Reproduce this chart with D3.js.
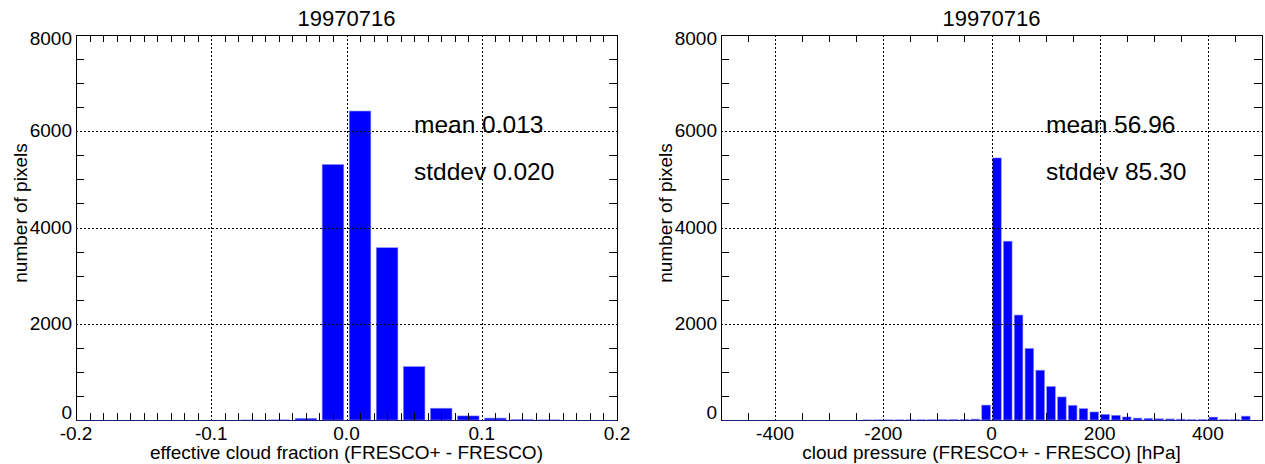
<!DOCTYPE html>
<html>
<head>
<meta charset="utf-8">
<script src="https://cdn.jsdelivr.net/npm/d3@7"></script>
<style>
  body { margin: 0; background: #fff; }
  svg { display: block; font-family: "Liberation Sans", Arial, sans-serif; }
</style>
</head>
<body>
<div id="container"></div>
<script>
// chart data
const dateTitle = '19970716';

const countTickValues = [0, 2000, 4000, 6000, 8000];
const countTickLabels = ['0', '2000', '4000', '6000', '8000'];

// effective cloud fraction histogram (bins of 0.02)
const cfBinCenters = [-0.19, -0.17, -0.15, -0.13, -0.11, -0.09, -0.07, -0.05, -0.03, -0.01,
                      0.01, 0.03, 0.05, 0.07, 0.09, 0.11, 0.13, 0.15, 0.17, 0.19];
const cfCounts = [0, 0, 0, 0, 0, 0, 1, 3, 35, 5310,
                  6420, 3580, 1110, 245, 85, 40, 12, 3, 0, 0];
const cfTickValues = [-0.2, -0.1, 0.0, 0.1, 0.2];
const cfTickLabels = ['-0.2', '-0.1', '0.0', '0.1', '0.2'];

// cloud pressure histogram (bins of 20 hPa)
const cpBinCenters = [-490, -470, -450, -430, -410, -390, -370, -350, -330, -310,
                      -290, -270, -250, -230, -210, -190, -170, -150, -130, -110,
                      -90, -70, -50, -30, -10, 10, 30, 50, 70, 90,
                      110, 130, 150, 170, 190, 210, 230, 250, 270, 290,
                      310, 330, 350, 370, 390, 410, 430, 450, 470, 490];
const cpCounts = [0, 0, 0, 0, 0, 0, 0, 0, 0, 0,
                  0, 0, 0, 2, 3, 3, 4, 4, 5, 6,
                  8, 10, 14, 20, 310, 5445, 3716, 2181, 1487, 1035,
                  696, 479, 306, 236, 167, 118, 98, 63, 40, 35,
                  25, 22, 18, 10, 12, 60, 8, 10, 80, 0];
const cpTickValues = [-400, -200, 0, 200, 400];
const cpTickLabels = ['-400', '-200', '0', '200', '400'];

// svg dimensions
const width = 1265;
const height = 464;
const plotTop = 35;
const plotBottom = 420;

const svg = d3.select('#container')
              .append('svg')
              .attr('width', width)
              .attr('height', height);

const panels = [
    {
        left: 76, right: 617,
        domain: [-0.2, 0.2], binWidth: 0.02, minorStep: 0.01,
        centers: cfBinCenters, counts: cfCounts,
        ticks: cfTickValues, labels: cfTickLabels,
        xTitle: 'effective cloud fraction (FRESCO+ - FRESCO)',
        mean: 'mean 0.013', std: 'stddev 0.020', textX: 414
    },
    {
        left: 721, right: 1262,
        domain: [-500, 500], binWidth: 20, minorStep: 50,
        centers: cpBinCenters, counts: cpCounts,
        ticks: cpTickValues, labels: cpTickLabels,
        xTitle: 'cloud pressure (FRESCO+ - FRESCO) [hPa]',
        mean: 'mean 56.96', std: 'stddev 85.30', textX: 1046
    }
];

const yScale = d3.scaleLinear()
                 .domain([0, 8000])
                 .range([plotBottom, plotTop]);

panels.forEach((p) => {
    const g = svg.append('g');

    const xScale = d3.scaleLinear()
                     .domain(p.domain)
                     .range([p.left, p.right]);

    // bars
    const barW = (xScale(p.binWidth) - xScale(0)) * 0.8;
    g.selectAll('rect.bar')
     .data(p.centers.map((c, i) => ({ c: c, n: p.counts[i] })))
     .enter()
     .append('rect')
     .attr('class', 'bar')
     .attr('x', d => xScale(d.c) - barW / 2)
     .attr('width', barW)
     .attr('y', d => yScale(d.n))
     .attr('height', d => plotBottom - yScale(d.n))
     .attr('fill', '#0000ff')
     .attr('stroke', '#8c8cff')
     .attr('stroke-width', 0.6);

    // dotted grid lines (inner major ticks)
    const xGrid = p.ticks.filter(v => v > p.domain[0] && v < p.domain[1]);
    g.selectAll('line.xgrid')
     .data(xGrid)
     .enter()
     .append('line')
     .attr('x1', d => Math.round(xScale(d)) + 0.5)
     .attr('x2', d => Math.round(xScale(d)) + 0.5)
     .attr('y1', plotTop)
     .attr('y2', plotBottom)
     .attr('stroke', '#000')
     .attr('stroke-dasharray', '2,2');

    const yGrid = countTickValues.filter(v => v > 0 && v < 8000);
    g.selectAll('line.ygrid')
     .data(yGrid)
     .enter()
     .append('line')
     .attr('x1', p.left)
     .attr('x2', p.right)
     .attr('y1', d => Math.round(yScale(d)) + 0.5)
     .attr('y2', d => Math.round(yScale(d)) + 0.5)
     .attr('stroke', '#000')
     .attr('stroke-dasharray', '2,2');

    // minor ticks on x (top and bottom)
    const xMinor = d3.range(p.domain[0], p.domain[1] + p.minorStep / 2, p.minorStep)
                     .filter(v => !p.ticks.some(t => Math.abs(t - v) < p.minorStep / 10));
    const xm = g.selectAll('g.xm')
                .data(xMinor)
                .enter()
                .append('g');
    xm.append('line')
      .attr('x1', d => Math.round(xScale(d)) + 0.5)
      .attr('x2', d => Math.round(xScale(d)) + 0.5)
      .attr('y1', plotBottom)
      .attr('y2', plotBottom - 7)
      .attr('stroke', '#000');
    xm.append('line')
      .attr('x1', d => Math.round(xScale(d)) + 0.5)
      .attr('x2', d => Math.round(xScale(d)) + 0.5)
      .attr('y1', plotTop)
      .attr('y2', plotTop + 7)
      .attr('stroke', '#000');

    // minor ticks on y (left and right)
    const yMinor = d3.range(500, 8000, 500).filter(v => v % 2000 !== 0);
    const ym = g.selectAll('g.ym')
                .data(yMinor)
                .enter()
                .append('g');
    ym.append('line')
      .attr('x1', p.left)
      .attr('x2', p.left + 8)
      .attr('y1', d => Math.round(yScale(d)) + 0.5)
      .attr('y2', d => Math.round(yScale(d)) + 0.5)
      .attr('stroke', '#000');
    ym.append('line')
      .attr('x1', p.right)
      .attr('x2', p.right - 8)
      .attr('y1', d => Math.round(yScale(d)) + 0.5)
      .attr('y2', d => Math.round(yScale(d)) + 0.5)
      .attr('stroke', '#000');

    // frame
    g.append('rect')
     .attr('x', p.left + 0.5)
     .attr('y', plotTop + 0.5)
     .attr('width', p.right - p.left)
     .attr('height', plotBottom - plotTop)
     .attr('fill', 'none')
     .attr('stroke', '#000');

    // empty bins leave a dark blue trace along the bottom axis
    g.append('line')
     .attr('x1', p.left)
     .attr('x2', p.right)
     .attr('y1', plotBottom + 0.5)
     .attr('y2', plotBottom + 0.5)
     .attr('stroke', '#1c1c78');

    // x tick labels
    g.selectAll('text.xl')
     .data(p.ticks)
     .enter()
     .append('text')
     .attr('x', d => xScale(d))
     .attr('y', plotBottom + 20)
     .attr('text-anchor', 'middle')
     .attr('font-size', 19)
     .text((d, i) => p.labels[i]);

    // y tick labels (end labels nudged inwards like the original)
    g.selectAll('text.yl')
     .data(countTickValues)
     .enter()
     .append('text')
     .attr('x', p.left - 4)
     .attr('y', d => yScale(d) + (d === 0 ? -1 : d === 8000 ? 10 : 6))
     .attr('text-anchor', 'end')
     .attr('font-size', 19)
     .text((d, i) => countTickLabels[i]);

    // titles
    g.append('text')
     .attr('x', (p.left + p.right) / 2)
     .attr('y', 26)
     .attr('text-anchor', 'middle')
     .attr('font-size', 22)
     .text(dateTitle);

    g.append('text')
     .attr('x', (p.left + p.right) / 2)
     .attr('y', 459)
     .attr('text-anchor', 'middle')
     .attr('font-size', 19)
     .text(p.xTitle);

    g.append('text')
     .attr('transform', `translate(${p.left - 49},213) rotate(-90)`)
     .attr('text-anchor', 'middle')
     .attr('font-size', 19)
     .text('number of pixels');

    // statistics
    g.append('text')
     .attr('x', p.textX)
     .attr('y', 133)
     .attr('font-size', 24.5)
     .text(p.mean);

    g.append('text')
     .attr('x', p.textX)
     .attr('y', 180)
     .attr('font-size', 24.5)
     .text(p.std);
});
</script>
</body>
</html>
